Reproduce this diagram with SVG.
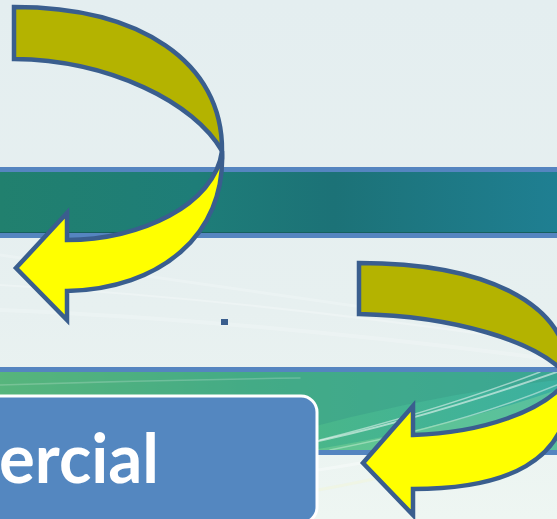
<svg xmlns="http://www.w3.org/2000/svg" width="557" height="519" viewBox="0 0 557 519">
<defs>
<style>
.arr{stroke:#3A5E8E;stroke-width:4.5;stroke-linejoin:miter;stroke-miterlimit:10}
.back{fill:#B4B300}
.front{fill:#FFFF00}
.border{fill:#5585C0}
.streak{fill:none;stroke:#FFFFFF;stroke-linecap:round}
</style>
<linearGradient id="bg" x1="0" y1="0" x2="0" y2="1">
<stop offset="0" stop-color="#E4EEF0"/>
<stop offset="0.6" stop-color="#E7F0F0"/>
<stop offset="1" stop-color="#EEF6F2"/>
</linearGradient>
<linearGradient id="teal" x1="0" y1="0" x2="1" y2="0">
<stop offset="0" stop-color="#21806E"/>
<stop offset="0.35" stop-color="#1E7D78"/>
<stop offset="0.6" stop-color="#1C7277"/>
<stop offset="1" stop-color="#1F7F92"/>
</linearGradient>
<linearGradient id="green" x1="0" y1="0" x2="1" y2="0">
<stop offset="0" stop-color="#74CC70"/>
<stop offset="0.45" stop-color="#4DB884"/>
<stop offset="1" stop-color="#3CB0A0"/>
</linearGradient>
<clipPath id="b2clip"><rect x="0" y="372" width="557" height="78"/></clipPath>
</defs>

<g id="background">
<rect x="0" y="0" width="557" height="519" fill="url(#bg)"/>
<path class="streak" d="M0,255 Q250,290 557,335" stroke-width="3" opacity="0.2"/>
<path class="streak" d="M0,285 Q260,300 557,345" stroke-width="2" opacity="0.25"/>
<path class="streak" d="M0,310 Q250,320 557,360" stroke-width="4" opacity="0.2"/>
<path class="streak" d="M318,470 Q420,455 557,420" stroke-width="3" opacity="0.35"/>
<path d="M318,490 Q430,470 557,430" fill="none" stroke="#F2F6D8" stroke-width="3" opacity="0.5"/>
</g>

<g id="band1">
<rect class="border" x="0" y="167" width="557" height="71"/>
<rect x="0" y="172" width="557" height="61" fill="url(#teal)"/>
<rect x="0" y="232" width="557" height="1" fill="#16605E"/>
</g>

<g id="band2">
<rect class="border" x="0" y="367" width="557" height="88"/>
<g clip-path="url(#b2clip)">
<rect x="0" y="372" width="557" height="78" fill="url(#green)"/>
<path d="M0,372 L557,372 L557,380 Q430,395 300,430 Q150,455 0,400 Z" fill="#3A9E88" opacity="0.5"/>
<path class="streak" d="M300,445 Q420,420 557,372" stroke-width="2" opacity="0.55"/>
<path class="streak" d="M320,440 Q440,410 540,372" stroke-width="1.5" opacity="0.5"/>
<path class="streak" d="M330,450 Q460,425 557,385" stroke-width="1.5" opacity="0.45"/>
<path d="M300,452 Q440,430 557,390 L557,450 Z" fill="#8EE09A" opacity="0.35"/>
<path class="streak" d="M0,385 Q150,380 300,378" stroke-width="1.5" opacity="0.2"/>
</g>
</g>

<g id="dot">
<rect x="221" y="319" width="7" height="6" fill="#3A5E8E"/>
</g>

<g id="arrow1">
<path class="arr back" d="M14,7 C140,7 223,62 222,151 C195,103 110,60 14,59 Z"/>
<path class="arr front" d="M222,151 C226,235 160,289 67,291 L67,320 L16,268 L67,213 L67,240 C140,240 215,205 222,151 Z"/>
</g>

<g id="arrow2">
<path class="arr back" d="M359,263 C480,263 570,300 569,378 C540,340 450,316 359,314 Z"/>
<path class="arr front" d="M569,378 C575,465 500,489 413,489 L413,515 L363,463 L413,406 L413,435 C480,433 545,412 569,378 Z"/>
</g>

<g id="box">
<rect x="-20" y="396" width="337" height="127" rx="16" ry="16" fill="#5487C0" stroke="#FFFFFF" stroke-width="3"/>
<text x="-1" y="483" textLength="160" lengthAdjust="spacingAndGlyphs" font-family="Lato, 'Open Sans', 'Liberation Sans', sans-serif" font-weight="bold" font-size="69" fill="#FFFFFF">ercial</text>
</g>
</svg>
